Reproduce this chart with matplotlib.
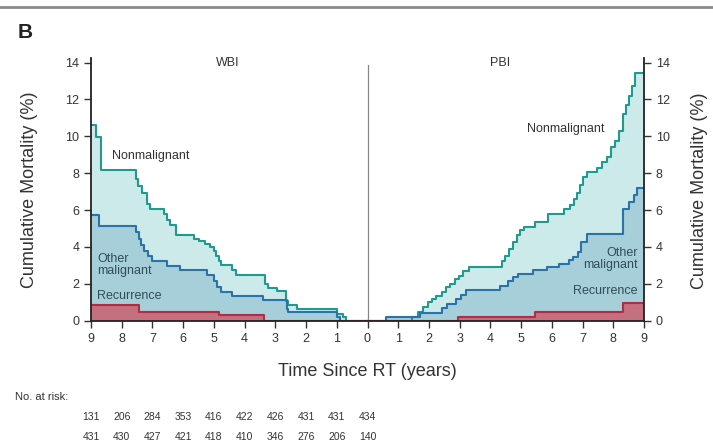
import matplotlib
matplotlib.use('Agg')
import matplotlib.pyplot as plt
import matplotlib.transforms as mtransforms

plt.rcParams['font.family'] = ['Liberation Sans', 'DejaVu Sans']

# step events: (years, cumulative % after the step)
wbi_nonmal_t = [0.69, 0.80, 1.00, 2.30, 2.58, 2.65, 2.95, 3.23, 3.33, 4.28, 4.42, 4.77, 4.84, 4.92,
                5.00, 5.14, 5.28, 5.50, 5.66, 6.22, 6.42, 6.53, 6.64, 7.07, 7.18, 7.34, 7.47, 7.54,
                8.68, 8.83]
wbi_nonmal_v = [0.18, 0.36, 0.66, 0.86, 1.08, 1.62, 1.80, 2.00, 2.50, 2.74, 3.00, 3.25, 3.50, 3.80,
                4.00, 4.18, 4.30, 4.45, 4.63, 5.17, 5.44, 5.80, 6.07, 6.35, 6.90, 7.30, 7.70, 8.20,
                9.98, 10.63]
wbi_other_t = [0.90, 1.00, 2.60, 2.63, 3.40, 4.42, 4.77, 4.90, 5.00, 5.23, 6.10, 6.53, 7.02, 7.15,
               7.27, 7.37, 7.45, 7.54, 8.73]
wbi_other_v = [0.18, 0.45, 0.63, 1.12, 1.32, 1.57, 1.81, 2.18, 2.48, 2.75, 2.99, 3.26, 3.53, 3.80,
               4.08, 4.45, 4.81, 5.14, 5.75]
wbi_rec_t = [3.36, 4.82, 7.45]
wbi_rec_v = [0.30, 0.48, 0.85]

pbi_nonmal_t = [1.44, 1.66, 1.82, 1.98, 2.10, 2.22, 2.41, 2.55, 2.68, 2.84, 2.99, 3.12, 3.31, 4.38,
                4.48, 4.60, 4.73, 4.86, 4.97, 5.08, 5.46, 5.87, 6.39, 6.58, 6.72, 6.82, 6.93, 7.00,
                7.14, 7.46, 7.62, 7.78, 7.94, 8.05, 8.20, 8.31, 8.40, 8.50, 8.60, 8.71]
pbi_nonmal_v = [0.18, 0.45, 0.72, 1.00, 1.17, 1.35, 1.53, 1.81, 2.00, 2.27, 2.45, 2.72, 2.94, 3.26,
                3.53, 3.90, 4.26, 4.63, 4.90, 5.08, 5.35, 5.80, 6.07, 6.26, 6.62, 6.90, 7.35, 7.78,
                8.07, 8.30, 8.60, 8.90, 9.40, 9.77, 10.30, 11.20, 11.70, 12.20, 12.75, 13.45]
pbi_other_t = [0.60, 1.70, 2.42, 2.60, 2.87, 3.05, 3.21, 4.30, 4.57, 4.73, 4.89, 5.39, 5.84, 6.22,
               6.55, 6.70, 6.85, 6.94, 7.14, 8.32, 8.50, 8.67, 8.77]
pbi_other_v = [0.22, 0.40, 0.68, 0.90, 1.17, 1.40, 1.66, 1.90, 2.17, 2.35, 2.54, 2.75, 2.94, 3.09,
               3.30, 3.45, 3.71, 4.26, 4.72, 6.07, 6.43, 6.80, 7.20]
pbi_rec_t = [2.93, 5.46, 8.33]
pbi_rec_v = [0.22, 0.45, 0.95]

risk_wbi = [131, 206, 284, 353, 416, 422, 426, 431, 431, 434]
risk_pbi = [431, 430, 427, 421, 418, 410, 346, 276, 206, 140]

teal_line, teal_fill = '#1f9a8f', '#cdeaea'
blue_line, blue_fill = '#2a72a8', '#a6cfd9'
red_line, red_fill = '#b52a45', '#c4707f'


def steps(times, vals, sign, end=9.0):
    xs, ys = [0.0], [0.0]
    prev = 0.0
    for t, v in zip(times, vals):
        xs += [sign * t, sign * t]
        ys += [prev, v]
        prev = v
    xs.append(sign * end)
    ys.append(prev)
    return xs, ys


fig = plt.figure(figsize=(7.13, 4.47), dpi=100)
ax = fig.add_axes([91 / 713, 1 - 320.7 / 447, (644 - 91) / 713, 262.7 / 447])

curves = [
    (wbi_nonmal_t, wbi_nonmal_v, -1, teal_line, teal_fill),
    (pbi_nonmal_t, pbi_nonmal_v, 1, teal_line, teal_fill),
    (wbi_other_t, wbi_other_v, -1, blue_line, blue_fill),
    (pbi_other_t, pbi_other_v, 1, blue_line, blue_fill),
    (wbi_rec_t, wbi_rec_v, -1, red_line, red_fill),
    (pbi_rec_t, pbi_rec_v, 1, red_line, red_fill),
]
for t, v, sign, lc, fc in curves:
    xs, ys = steps(t, v, sign)
    ax.fill_between(xs, 0, ys, color=fc, lw=0)
    ax.plot(xs, ys, color=lc, lw=1.5)

ax.axvline(0, ymin=0, ymax=0.975, color='#888888', lw=0.9)

ax.set_xlim(-9, 9)
ax.set_ylim(0, 14.25)
ax.set_xticks(range(-9, 10))
ax.set_xticklabels([str(abs(i)) for i in range(-9, 10)])
ax.set_yticks(range(0, 15, 2))
ax.tick_params(axis='both', direction='out', length=5, width=1, labelsize=9, colors='#333333')
ax.tick_params(axis='y', left=True, right=True, labelleft=True, labelright=True)
ax.spines['top'].set_visible(False)
for s in ['left', 'right', 'bottom']:
    ax.spines[s].set_linewidth(1.3)
    ax.spines[s].set_color('#222222')

ax.set_ylabel('Cumulative Mortality (%)', fontsize=13, color='#333333')
ax.yaxis.set_label_coords(-0.095, 0.5)
fig.text(700 / 713, 1 - 191 / 447, 'Cumulative Mortality (%)', fontsize=13,
         color='#333333', rotation=90, ha='center', va='center')
fig.text(367 / 713, 1 - 372 / 447, 'Time Since RT (years)', fontsize=13,
         color='#333333', ha='center', va='center')

lab = dict(fontsize=9, va='center', color='#333333')
ax.text(-4.54, 14.0, 'WBI', ha='center', **lab)
ax.text(4.31, 14.0, 'PBI', ha='center', **lab)
ax.text(-7.07, 8.94, 'Nonmalignant', ha='center', **lab)
ax.text(6.46, 10.4, 'Nonmalignant', ha='center', **lab)
sub = dict(fontsize=9, va='center', color='#2f4f5a', linespacing=1.05)
ax.text(-8.8, 3.02, 'Other\nmalignant', ha='left', **sub)
ax.text(8.8, 3.35, 'Other\nmalignant', ha='right', multialignment='right', **sub)
ax.text(-8.8, 1.36, 'Recurrence', ha='left', **sub)
ax.text(8.8, 1.61, 'Recurrence', ha='right', **sub)

# number at risk table
trans = mtransforms.blended_transform_factory(ax.transData, fig.transFigure)
fig.text(15 / 713, 1 - 397 / 447, 'No. at risk:', fontsize=8, va='center', color='#333333')
for i, (a, b) in enumerate(zip(risk_wbi, risk_pbi)):
    x = -9 + i
    ax.text(x, 1 - 417 / 447, str(a), transform=trans, fontsize=7.5, ha='center', va='center',
            color='#333333')
    ax.text(x, 1 - 437 / 447, str(b), transform=trans, fontsize=7.5, ha='center', va='center',
            color='#333333')

fig.text(18 / 713, 1 - 33 / 447, 'B', fontsize=15, fontweight='bold', va='center', ha='left',
         color='#222222')
fig.add_artist(plt.Line2D([0, 1], [1 - 7 / 447, 1 - 7 / 447], transform=fig.transFigure,
                          color='#8a8a8a', lw=2))

fig.savefig('out.png', dpi=100)
